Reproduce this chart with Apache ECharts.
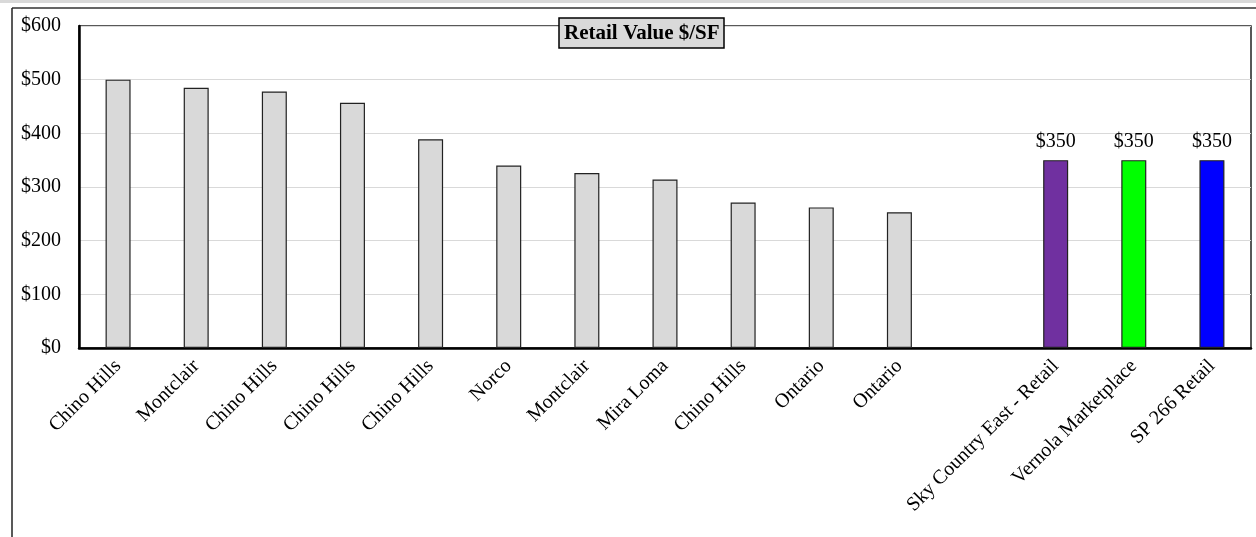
<!DOCTYPE html>
<html>
<head>
<meta charset="utf-8">
<script src="https://cdn.jsdelivr.net/npm/echarts@6/dist/echarts.min.js"></script>
<style>
  html, body { margin: 0; padding: 0; background: #fff; }
  #chart { width: 1256px; height: 537px; }
</style>
</head>
<body>
<div id="chart"></div>
<script>
// Comparable sales and subject properties, retail value per square foot
const categories = [
  'Chino Hills', 'Montclair', 'Chino Hills', 'Chino Hills', 'Chino Hills',
  'Norco', 'Montclair', 'Mira Loma', 'Chino Hills', 'Ontario', 'Ontario',
  '',
  'Sky Country East - Retail', 'Vernola Marketplace', 'SP 266 Retail'
];
const values = [500, 485, 478, 457, 389, 340, 326, 314, 271, 262, 253, null, 350, 350, 350];
const barColors = [
  '#d9d9d9', '#d9d9d9', '#d9d9d9', '#d9d9d9', '#d9d9d9', '#d9d9d9',
  '#d9d9d9', '#d9d9d9', '#d9d9d9', '#d9d9d9', '#d9d9d9', '#d9d9d9',
  '#7030a0', '#00ff00', '#0000ff'
];
// Only the subject properties carry a value label
const labelled = [false, false, false, false, false, false, false, false, false, false, false, false, true, true, true];
const yTicks = { min: 0, max: 600, interval: 100 };
const titleText = 'Retail Value $/SF';

const FONT = '"Liberation Serif", "Times New Roman", serif';

const chart = echarts.init(document.getElementById('chart'), null, { renderer: 'canvas' });

chart.setOption({
  animation: false,
  backgroundColor: '#ffffff',
  title: {
    text: titleText,
    left: 559,
    top: 18,
    padding: [5, 5, 4, 5],
    backgroundColor: '#d9d9d9',
    borderColor: '#000',
    borderWidth: 1.5,
    textStyle: { fontFamily: FONT, fontSize: 21, fontWeight: 'bold', color: '#000' }
  },
  grid: {
    left: 79, right: 5, top: 26, bottom: 189,
    show: true, borderColor: '#222', borderWidth: 1.5
  },
  xAxis: {
    type: 'category',
    data: categories,
    axisLine: { lineStyle: { color: '#000', width: 2.5 } },
    axisTick: { show: false },
    axisLabel: {
      interval: 0, rotate: 45, margin: 15,
      fontFamily: FONT, fontSize: 20, color: '#000'
    }
  },
  yAxis: {
    type: 'value',
    min: yTicks.min, max: yTicks.max, interval: yTicks.interval,
    axisLine: { show: true, lineStyle: { color: '#000', width: 2.5 } },
    axisTick: { show: false },
    splitLine: { lineStyle: { color: '#d9d9d9', width: 1 } },
    axisLabel: {
      margin: 18,
      fontFamily: FONT, fontSize: 20, color: '#000',
      formatter: v => '$' + v
    }
  },
  series: [{
    type: 'bar',
    barWidth: '32%',
    data: values.map((v, i) => ({
      value: v,
      itemStyle: { color: barColors[i], borderColor: '#222', borderWidth: 1.2 },
      label: {
        show: labelled[i], position: 'top', distance: 8,
        fontFamily: FONT, fontSize: 20, color: '#000',
        formatter: p => '$' + p.value
      }
    }))
  }],
  graphic: [
    { type: 'rect', shape: { x: 0, y: 0, width: 1256, height: 3 }, style: { fill: '#d9d9d9' }, silent: true },
    { type: 'line', shape: { x1: 12, y1: 8, x2: 1256, y2: 8 }, style: { stroke: '#333', lineWidth: 1.5 }, silent: true },
    { type: 'line', shape: { x1: 12, y1: 8, x2: 12, y2: 537 }, style: { stroke: '#222', lineWidth: 1.5 }, silent: true }
  ]
});
</script>
</body>
</html>
